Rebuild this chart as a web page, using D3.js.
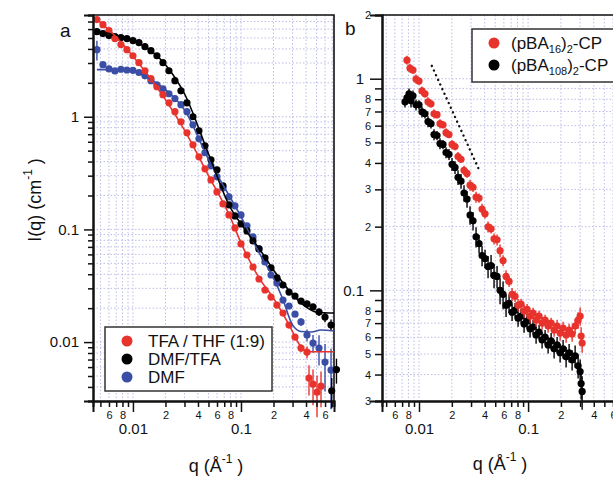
<!DOCTYPE html>
<html>
<head>
<meta charset="utf-8">
<script src="https://cdn.jsdelivr.net/npm/d3@7"></script>
<style>
  body { margin: 0; background: #fff; }
  svg { font-family: "Liberation Sans", Arial, Helvetica, sans-serif; }
</style>
</head>
<body>
<svg id="chart" width="613" height="477"></svg>
<script>
// ---- Panel a : SANS, drei Lösungsmittel ----
const redAQ = [0.00464, 0.00528, 0.00600, 0.00681, 0.00774, 0.00880, 0.0100, 0.01136, 0.01292, 0.01468,
  0.01668, 0.01896, 0.02154, 0.02448, 0.02783, 0.03162, 0.03594, 0.04084, 0.04642, 0.05275,
  0.05995, 0.06813, 0.07743, 0.08799, 0.1000, 0.1136, 0.1292, 0.1468, 0.1668, 0.1896,
  0.2154, 0.2448, 0.2783, 0.3162, 0.3594, 0.4084, 0.4261, 0.4642, 0.5054, 0.5506];
const redAI = [7.28, 6.57, 5.81, 4.94, 4.37, 3.94, 3.48, 3.02, 2.56, 2.18,
  1.85, 1.57, 1.33, 1.11, 0.903, 0.721, 0.564, 0.441, 0.345, 0.275,
  0.215, 0.1685, 0.1345, 0.1031, 0.0743, 0.0593, 0.0464, 0.0363, 0.0290, 0.0251,
  0.0213, 0.0181, 0.01416, 0.01108, 0.00885, 0.00815, 0.00479, 0.00423, 0.00359, 0.00406];
const redAErr = [0, 0, 0, 0, 0, 0, 0, 0, 0, 0,
  0, 0, 0, 0, 0, 0, 0, 0, 0, 0,
  0, 0, 0, 0, 0, 0, 0, 0, 0, 0,
  0, 0.03, 0.04, 0.06, 0.08, 0.12, 0.3, 0.35, 0.4, 0.35];

const blackAQ = [0.00464, 0.00528, 0.00600, 0.00681, 0.00774, 0.00880, 0.0100, 0.01136, 0.01292, 0.01468,
  0.01668, 0.01896, 0.02154, 0.02448, 0.02783, 0.03162, 0.03594, 0.04084, 0.04642, 0.05275,
  0.05995, 0.06813, 0.07743, 0.08799, 0.1000, 0.1136, 0.1292, 0.1468, 0.1668, 0.1896,
  0.2154, 0.2448, 0.2783, 0.3162, 0.3594, 0.4084, 0.4642, 0.5275, 0.5995, 0.6813, 0.6915, 0.765];
const blackAI = [5.69, 5.47, 5.25, 5.14, 5.04, 4.94, 4.74, 4.55, 4.19, 3.86,
  3.48, 3.02, 2.56, 2.09, 1.70, 1.33, 1.00, 0.751, 0.553, 0.415,
  0.338, 0.2435, 0.165, 0.1318, 0.1119, 0.0970, 0.0790, 0.0671, 0.0558, 0.0455,
  0.0371, 0.0321, 0.0278, 0.0256, 0.0231, 0.0218, 0.0205, 0.0185, 0.0167, 0.01416, 0.0037, 0.0057];
const blackAErr = [0, 0, 0, 0, 0, 0, 0, 0, 0, 0,
  0, 0, 0, 0, 0, 0, 0, 0, 0, 0,
  0, 0, 0, 0, 0, 0, 0, 0, 0, 0,
  0, 0, 0, 0.03, 0.04, 0.05, 0.06, 0.08, 0.1, 0.12, 0.3, 0.25];

const blueAQ = [0.00464, 0.00528, 0.00600, 0.00681, 0.00774, 0.00880, 0.0100, 0.01136, 0.01292, 0.01468,
  0.01668, 0.01896, 0.02154, 0.02448, 0.02783, 0.03162, 0.03594, 0.04084, 0.04642, 0.05275,
  0.05995, 0.06813, 0.07743, 0.08799, 0.1000, 0.1136, 0.1292, 0.1468, 0.1668, 0.1896,
  0.2154, 0.2448, 0.2783, 0.3162, 0.3594, 0.4084, 0.4642, 0.5275, 0.5995, 0.6813];
const blueAI = [3.94, 2.90, 2.66, 2.55, 2.64, 2.60, 2.58, 2.47, 2.31, 2.09,
  1.92, 1.77, 1.60, 1.45, 1.28, 1.11, 0.849, 0.637, 0.479, 0.367,
  0.293, 0.234, 0.1945, 0.1618, 0.1345, 0.1074, 0.0858, 0.0671, 0.0514, 0.0394,
  0.0335, 0.0236, 0.0209, 0.0177, 0.0151, 0.01154, 0.0098, 0.00885, 0.00664, 0.00564];
const blueAErr = [0.2, 0, 0, 0, 0, 0, 0, 0, 0, 0,
  0, 0, 0, 0, 0, 0, 0, 0, 0, 0,
  0, 0, 0, 0, 0, 0, 0, 0, 0, 0,
  0, 0, 0, 0.05, 0.08, 0.12, 0.18, 0.3, 0.45, 0.55];

// Fitkurven
const redFitQ = [0.00464, 0.007, 0.01, 0.015, 0.02, 0.03, 0.05, 0.08, 0.1, 0.15, 0.2, 0.25, 0.3, 0.35, 0.4, 0.5, 0.726];
const redFitI = [7.3, 5.1, 3.45, 2.1, 1.42, 0.76, 0.30, 0.127, 0.076, 0.036, 0.0245, 0.0172, 0.0124, 0.0094, 0.0083, 0.0082, 0.0082];
const blackFitQ = [0.00464, 0.007, 0.01, 0.015, 0.02, 0.03, 0.05, 0.08, 0.1, 0.15, 0.2, 0.3, 0.4, 0.5, 0.726];
const blackFitI = [5.8, 5.3, 4.75, 3.8, 2.9, 1.6, 0.47, 0.155, 0.112, 0.066, 0.0437, 0.0265, 0.0205, 0.0184, 0.0181];
const blueFitQ = [0.00464, 0.008, 0.01, 0.015, 0.02, 0.03, 0.05, 0.08, 0.1, 0.15, 0.2, 0.24, 0.3, 0.36, 0.45, 0.55, 0.726];
const blueFitI = [2.62, 2.62, 2.55, 2.1, 1.74, 1.15, 0.42, 0.19, 0.13, 0.06, 0.037, 0.025, 0.0142, 0.0124, 0.0123, 0.0128, 0.0126];

// ---- Panel b : (pBA)2-CP ----
const red16Q = [0.00776, 0.00827, 0.00881, 0.00939, 0.0100, 0.01065, 0.01135, 0.01209, 0.01288, 0.01373,
  0.01463, 0.01558, 0.01660, 0.01769, 0.01884, 0.02008, 0.02139, 0.02279, 0.02428, 0.02587,
  0.02757, 0.02937, 0.03129, 0.03334, 0.03552, 0.03784, 0.04032, 0.04296, 0.04577, 0.04876,
  0.05195, 0.05535, 0.05897, 0.06283, 0.06694, 0.07132, 0.07598, 0.08095, 0.08625, 0.09189,
  0.0979, 0.1043, 0.1111, 0.1184, 0.1261, 0.1344, 0.1432, 0.1526, 0.1626, 0.1732,
  0.1845, 0.1966, 0.2094, 0.2231, 0.2377, 0.2533, 0.2699, 0.2875, 0.3000, 0.3064, 0.3130];
const red16I = [1.224, 1.122, 1.098, 0.997, 0.975, 0.876, 0.848, 0.778, 0.761, 0.683,
  0.676, 0.613, 0.606, 0.556, 0.545, 0.489, 0.478, 0.429, 0.416, 0.369,
  0.357, 0.314, 0.307, 0.276, 0.273, 0.242, 0.230, 0.1995, 0.1953, 0.1753,
  0.1734, 0.1540, 0.1382, 0.1163, 0.1102, 0.0958, 0.0937, 0.0851, 0.0860, 0.0797,
  0.0814, 0.0755, 0.0780, 0.0723, 0.0755, 0.0700, 0.0723, 0.0678, 0.0700, 0.0649,
  0.0678, 0.0628, 0.0664, 0.0615, 0.0649, 0.0622, 0.0678, 0.0723, 0.0755, 0.0608, 0.0564];
const red16Err = [0.05, 0.05, 0.04, 0.05, 0.04, 0.05, 0.04, 0.05, 0.04, 0.05,
  0.04, 0.05, 0.04, 0.05, 0.04, 0.05, 0.04, 0.05, 0.04, 0.05,
  0.05, 0.06, 0.05, 0.06, 0.05, 0.06, 0.05, 0.06, 0.05, 0.06,
  0.06, 0.07, 0.06, 0.07, 0.06, 0.07, 0.06, 0.07, 0.06, 0.07,
  0.06, 0.07, 0.06, 0.07, 0.06, 0.07, 0.06, 0.07, 0.06, 0.07,
  0.07, 0.08, 0.07, 0.08, 0.07, 0.08, 0.08, 0.09, 0.1, 0.1, 0.1];

const black108Q = [0.00744, 0.00776, 0.00810, 0.00845, 0.00881, 0.00939, 0.0100, 0.01065, 0.01135, 0.01209,
  0.01288, 0.01373, 0.01463, 0.01558, 0.01660, 0.01769, 0.01884, 0.02008, 0.02139, 0.02279,
  0.02428, 0.02587, 0.02757, 0.02937, 0.03129, 0.03334, 0.03552, 0.03784, 0.04032, 0.04296,
  0.04577, 0.04876, 0.05195, 0.05535, 0.05897, 0.06283, 0.06694, 0.07132, 0.07598, 0.08095,
  0.08625, 0.09189, 0.0979, 0.1043, 0.1111, 0.1184, 0.1261, 0.1344, 0.1432, 0.1526,
  0.1626, 0.1732, 0.1845, 0.1966, 0.2094, 0.2231, 0.2377, 0.2533, 0.2699, 0.2875, 0.3000, 0.3064, 0.3130];
const black108I = [0.778, 0.812, 0.848, 0.786, 0.830, 0.753, 0.753, 0.698, 0.683, 0.627,
  0.613, 0.545, 0.539, 0.494, 0.489, 0.448, 0.439, 0.394, 0.381, 0.342,
  0.328, 0.288, 0.270, 0.227, 0.213, 0.1791, 0.1661, 0.1459, 0.1413, 0.1296,
  0.1310, 0.1176, 0.1163, 0.1000, 0.0958, 0.0851, 0.0869, 0.0788, 0.0806, 0.0739,
  0.0755, 0.0693, 0.0716, 0.0657, 0.0671, 0.0615, 0.0635, 0.0583, 0.0602, 0.0552,
  0.0577, 0.0529, 0.0552, 0.0507, 0.0529, 0.0485, 0.0507, 0.0470, 0.0490, 0.0440, 0.0413, 0.0363, 0.0333];
const black108Err = [0.06, 0.07, 0.06, 0.07, 0.06, 0.06, 0.05, 0.06, 0.05, 0.06,
  0.05, 0.06, 0.05, 0.06, 0.05, 0.06, 0.06, 0.07, 0.07, 0.08,
  0.08, 0.09, 0.09, 0.1, 0.1, 0.11, 0.1, 0.11, 0.1, 0.12,
  0.12, 0.13, 0.12, 0.14, 0.15, 0.12, 0.1, 0.09, 0.08, 0.09,
  0.08, 0.09, 0.08, 0.09, 0.08, 0.09, 0.08, 0.09, 0.08, 0.09,
  0.09, 0.1, 0.09, 0.1, 0.1, 0.11, 0.1, 0.11, 0.12, 0.13, 0.14, 0.16, 0.18];

// gepunktete Steigungslinie
const slopeQ = [0.0131, 0.0365];
const slopeI = [1.15, 0.36];

// Achsen-Ticks
const xMajor = [0.01, 0.1];
const xMinor = [0.005, 0.006, 0.007, 0.008, 0.009, 0.02, 0.03, 0.04, 0.05, 0.06, 0.07, 0.08, 0.09, 0.2, 0.3, 0.4, 0.5, 0.6, 0.7];
const xMinorLabeled = [0.006, 0.008, 0.02, 0.04, 0.06, 0.08, 0.2, 0.4, 0.6];
const yMajorA = [0.01, 0.1, 1];
const yMinorA = [0.003, 0.004, 0.005, 0.006, 0.007, 0.008, 0.009, 0.02, 0.03, 0.04, 0.05, 0.06, 0.07, 0.08, 0.09,
  0.2, 0.3, 0.4, 0.5, 0.6, 0.7, 0.8, 0.9, 2, 3, 4, 5, 6, 7, 8];
const yMajorB = [0.1, 1];
const yMinorB = [0.03, 0.04, 0.05, 0.06, 0.07, 0.08, 0.09, 0.2, 0.3, 0.4, 0.5, 0.6, 0.7, 0.8, 0.9, 2];
const yMinorLabeledB = [0.03, 0.04, 0.05, 0.06, 0.07, 0.08, 0.2, 0.3, 0.4, 0.5, 0.6, 0.7, 0.8, 2];

const legendA = ["TFA / THF (1:9)", "DMF/TFA", "DMF"];

const RED = "#e8332c", BLACK = "#000000", BLUE = "#3a4ea6";
const GRID = "#bcbce8";

const svg = d3.select("#chart");

function leadDigit(d) {
  const p = Math.pow(10, Math.floor(Math.log10(d) + 1e-9));
  return String(Math.round(d / p));
}

function drawPanel(cfg) {
  const x = d3.scaleLog().domain(cfg.xDomain).range(cfg.xRange);
  const y = d3.scaleLog().domain(cfg.yDomain).range(cfg.yRange);
  const g = svg.append("g");
  const [x0, x1] = cfg.xRange, [y1, y0] = cfg.yRange;

  // Gitter
  g.selectAll(".gx").data(xMajor.concat(xMinor)).enter().append("line")
    .attr("x1", d => x(d)).attr("x2", d => x(d)).attr("y1", y0).attr("y2", y1)
    .attr("stroke", GRID).attr("stroke-width", 1).attr("stroke-dasharray", "1.5,2");
  g.selectAll(".gy").data(cfg.yMajor.concat(cfg.yMinor)).enter().append("line")
    .attr("x1", x0).attr("x2", x1).attr("y1", d => y(d)).attr("y2", d => y(d))
    .attr("stroke", GRID).attr("stroke-width", 1).attr("stroke-dasharray", "1.5,2");

  // Rahmen oben/rechts
  g.append("path")
    .attr("d", `M${x0},${y0}H${x1}V${y1}`)
    .attr("fill", "none").attr("stroke", "#111").attr("stroke-width", 1.6);

  return { x, y, g };
}

function drawAxes(p, cfg) {
  const { x, y, g } = p;
  const base = cfg.yRange[0];
  const left = cfg.xRange[0];

  const xMin = g.append("g").attr("transform", `translate(0,${base})`)
    .call(d3.axisBottom(x).tickValues(xMinor).tickSize(6).tickPadding(4)
      .tickFormat(d => xMinorLabeled.includes(d) ? leadDigit(d) : ""));
  const xMaj = g.append("g").attr("transform", `translate(0,${base})`)
    .call(d3.axisBottom(x).tickValues(xMajor).tickSize(11).tickPadding(11)
      .tickFormat(d => String(d)));
  xMin.selectAll("text").style("font-size", "11px");
  xMaj.selectAll("text").style("font-size", "15px");

  const yMin = g.append("g").attr("transform", `translate(${left},0)`)
    .call(d3.axisLeft(y).tickValues(cfg.yMinor).tickSize(cfg.minorTick).tickPadding(4)
      .tickFormat(d => cfg.yMinorLabeled.includes(d) ? leadDigit(d) : ""));
  const yMaj = g.append("g").attr("transform", `translate(${left},0)`)
    .call(d3.axisLeft(y).tickValues(cfg.yMajor).tickSize(cfg.majorTick).tickPadding(cfg.majorPad)
      .tickFormat(d => String(d)));
  yMin.selectAll("text").style("font-size", "11px");
  yMaj.selectAll("text").style("font-size", "15px");

  [xMin, xMaj, yMin, yMaj].forEach(a => {
    a.selectAll("text").attr("fill", "#111").style("font-family", "Liberation Sans, Arial, sans-serif");
    a.selectAll(".tick line").attr("stroke", "#111").attr("stroke-width", 1.5);
    a.select(".domain").attr("stroke", "#111").attr("stroke-width", 2);
  });
}

function drawSeries(p, qs, is, errs, color, r) {
  const { x, y, g } = p;
  const pts = qs.map((q, i) => ({ q, I: is[i], e: errs ? errs[i] : 0 }));
  g.append("g").selectAll("line").data(pts.filter(d => d.e > 0)).enter().append("line")
    .attr("x1", d => x(d.q)).attr("x2", d => x(d.q))
    .attr("y1", d => y(d.I * (1 + d.e))).attr("y2", d => y(d.I * (1 - d.e)))
    .attr("stroke", color).attr("stroke-width", 1.4);
  g.append("g").selectAll("circle").data(pts).enter().append("circle")
    .attr("cx", d => x(d.q)).attr("cy", d => y(d.I)).attr("r", r)
    .attr("fill", color);
}

function drawFit(p, qs, is, color) {
  const { x, y, g } = p;
  const line = d3.line().x(d => x(d[0])).y(d => y(d[1])).curve(d3.curveMonotoneX);
  g.append("path").datum(qs.map((q, i) => [q, is[i]]))
    .attr("d", line).attr("fill", "none").attr("stroke", color).attr("stroke-width", 1.6);
}

// ---------- Panel a ----------
const cfgA = {
  xDomain: [0.00427, 0.726], xRange: [93, 334],
  yDomain: [0.003, 8], yRange: [401, 15],
  yMajor: yMajorA, yMinor: yMinorA, yMinorLabeled: [],
  majorTick: 9, minorTick: 5, majorPad: 5
};
const pa = drawPanel(cfgA);
drawSeries(pa, blueAQ, blueAI, blueAErr, BLUE, 3.6);
drawSeries(pa, blackAQ, blackAI, blackAErr, BLACK, 3.6);
drawSeries(pa, redAQ, redAI, redAErr, RED, 3.6);
drawFit(pa, blueFitQ, blueFitI, BLUE);
drawFit(pa, blackFitQ, blackFitI, BLACK);
drawFit(pa, redFitQ, redFitI, RED);
drawAxes(pa, cfgA);

// Legende a
const legA = svg.append("g");
legA.append("rect").attr("x", 105).attr("y", 327).attr("width", 167).attr("height", 64)
  .attr("fill", "#fff").attr("stroke", "#333").attr("stroke-width", 1.5);
[RED, BLACK, BLUE].forEach((c, i) => {
  const cy = 341 + i * 18;
  legA.append("circle").attr("cx", 127).attr("cy", cy).attr("r", 5.5).attr("fill", c);
  legA.append("text").attr("x", 148).attr("y", cy + 6).attr("font-size", 17).attr("fill", "#111")
    .text(legendA[i]);
});

// ---------- Panel b ----------
const cfgB = {
  xDomain: [0.00458, 0.726], xRange: [382, 622],
  yDomain: [0.03, 2], yRange: [401, 15],
  yMajor: yMajorB, yMinor: yMinorB, yMinorLabeled: yMinorLabeledB,
  majorTick: 12, minorTick: 7, majorPad: 6
};
const pb = drawPanel(cfgB);
drawSeries(pb, black108Q, black108I, black108Err, BLACK, 3.6);
drawSeries(pb, red16Q, red16I, red16Err, RED, 3.6);
pb.g.append("line")
  .attr("x1", pb.x(slopeQ[0])).attr("y1", pb.y(slopeI[0]))
  .attr("x2", pb.x(slopeQ[1])).attr("y2", pb.y(slopeI[1]))
  .attr("stroke", "#111").attr("stroke-width", 2.4)
  .attr("stroke-linecap", "round").attr("stroke-dasharray", "0.1,5");
drawAxes(pb, cfgB);

// Legende b
const legB = svg.append("g");
legB.append("rect").attr("x", 472).attr("y", 29).attr("width", 160).attr("height", 53)
  .attr("fill", "#fff").attr("stroke", "#333").attr("stroke-width", 1.5);
[[RED, "16"], [BLACK, "108"]].forEach(([c, n], i) => {
  const cy = 43 + i * 22;
  legB.append("circle").attr("cx", 494).attr("cy", cy).attr("r", 5.5).attr("fill", c);
  const t = legB.append("text").attr("x", 511).attr("y", cy + 6).attr("font-size", 17).attr("fill", "#111");
  t.append("tspan").text("(pBA");
  t.append("tspan").attr("font-size", 11).attr("dy", 4).text(n);
  t.append("tspan").attr("dy", -4).text(")");
  t.append("tspan").attr("font-size", 11).attr("dy", 4).text("2");
  t.append("tspan").attr("dy", -4).text("-CP");
});

// ---------- Beschriftungen ----------
svg.append("text").attr("x", 60).attr("y", 37).attr("font-size", 19).attr("fill", "#111").text("a");
svg.append("text").attr("x", 345).attr("y", 35).attr("font-size", 19).attr("fill", "#111").text("b");

function qTitle(cx, by) {
  const t = svg.append("text").attr("x", cx).attr("y", by).attr("text-anchor", "middle")
    .attr("font-size", 18).attr("fill", "#111");
  t.append("tspan").text("q (Å");
  t.append("tspan").attr("font-size", 12).attr("dy", -9).text("-1");
  t.append("tspan").attr("dy", 9).text(" )");
}
qTitle(216, 472);
qTitle(500, 470);

const yt = svg.append("text").attr("transform", "translate(41,200) rotate(-90)")
  .attr("text-anchor", "middle").attr("font-size", 18).attr("fill", "#111");
yt.append("tspan").text("I(q) (cm");
yt.append("tspan").attr("font-size", 12).attr("dy", -9).text("-1");
yt.append("tspan").attr("dy", 9).text(" )");
</script>
</body>
</html>
